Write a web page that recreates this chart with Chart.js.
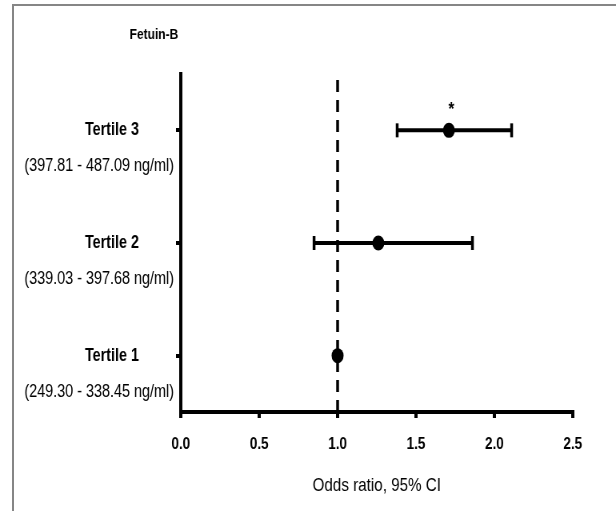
<!DOCTYPE html>
<html>
<head>
<meta charset="utf-8">
<title>Fetuin-B</title>
<script src="https://cdn.jsdelivr.net/npm/chart.js@4"></script>
<style>
  html, body { margin: 0; padding: 0; background: #fff; }
  body { width: 616px; height: 511px; overflow: hidden; position: relative; }
  /* grey frame, only left and top edges show */
  #frame { position: absolute; left: 12px; top: 4px; right: -10px; bottom: -10px;
           border-left: 2px solid #868686; border-top: 2px solid #868686; }
  /* the figure is drawn wide and squeezed horizontally (narrow font look) */
  #wrap { position: absolute; left: 0; top: 0; width: 770px; height: 511px;
          transform: scaleX(0.8); transform-origin: 0 0; }
</style>
</head>
<body>
<div id="frame"></div>
<div id="wrap"><canvas id="forest"></canvas></div>
<script>
// === Dati ===
const tertiles = [1, 2, 3];
const tertileNames = ["Tertile 1", "Tertile 2", "Tertile 3"];
const tertileRanges = ["(249.30 - 338.45 ng/ml)", "(339.03 - 397.68 ng/ml)", "(397.81 - 487.09 ng/ml)"];
const oddsRatio = [1.00, 1.26, 1.71];
const ciLow = [null, 0.85, 1.38];
const ciHigh = [null, 1.86, 2.11];
const significant = [false, false, true];
const xTicks = [0, 0.5, 1.0, 1.5, 2.0, 2.5];
const refOR = 1.0;

const FONT = "'Liberation Sans', Arial, sans-serif";

// punti OR
const pointSet = {
  label: "OR",
  data: tertiles.map((t, i) => ({ x: oddsRatio[i], y: t })),
  pointRadius: 7.5,
  pointBackgroundColor: "#000",
  pointBorderWidth: 0,
  showLine: false
};

// barre 95% CI (con i baffi verticali alle estremita')
const ciSets = [];
tertiles.forEach((t, i) => {
  if (ciLow[i] == null) return;
  ciSets.push({
    label: "CI " + t,
    data: [{ x: ciLow[i], y: t }, { x: ciHigh[i], y: t }],
    showLine: true,
    borderColor: "#000",
    borderWidth: 4,
    pointStyle: "line",
    pointRotation: 90,
    pointRadius: 7,
    pointBorderColor: "#000",
    pointBorderWidth: 3.5
  });
});

// linea tratteggiata a OR = 1
const refSet = {
  label: "ref",
  data: [{ x: refOR, y: 0.5 }, { x: refOR, y: 3.5 }],
  showLine: true,
  borderColor: "#000",
  borderWidth: 3.5,
  borderDash: [12, 8],
  pointRadius: 0
};

// etichette righe, titolo e asterisco
const labelPlugin = {
  id: "rowLabels",
  afterDraw(chart) {
    const ctx = chart.ctx;
    const xs = chart.scales.x, ys = chart.scales.y;
    const left = chart.chartArea.left;
    ctx.save();
    ctx.fillStyle = "#000";
    ctx.textBaseline = "middle";
    ctx.textAlign = "center";
    tertiles.forEach((t, i) => {
      const py = ys.getPixelForValue(t);
      ctx.font = "bold 18px " + FONT;
      ctx.fillText(tertileNames[i], left - 86, py);
      ctx.font = "18px " + FONT;
      ctx.fillText(tertileRanges[i], left - 102, py + 36);
      if (significant[i]) {
        ctx.font = "bold 19px " + FONT;
        ctx.fillText("*", xs.getPixelForValue(oddsRatio[i]) + 3, py - 21);
      }
    });
    ctx.textAlign = "left";
    ctx.font = "bold 15px " + FONT;
    ctx.fillText("Fetuin-B", left - 64, 35);
    ctx.restore();
  }
};

new Chart(document.getElementById("forest"), {
  type: "scatter",
  data: { datasets: [pointSet, ...ciSets, refSet] },
  options: {
    responsive: true,
    maintainAspectRatio: false,
    animation: false,
    events: [],
    layout: { padding: { top: 74, right: 54, bottom: 0, left: 0 } },
    plugins: { legend: { display: false }, tooltip: { enabled: false } },
    scales: {
      x: {
        type: "linear",
        min: 0,
        max: 2.5,
        afterBuildTicks: s => { s.ticks = xTicks.map(v => ({ value: v })); },
        ticks: {
          callback: v => Number(v).toFixed(1),
          font: { family: FONT, size: 17, weight: "bold" },
          color: "#000",
          padding: 16,
          maxRotation: 0
        },
        grid: { drawOnChartArea: false, drawTicks: true, tickLength: 6, color: "#000", lineWidth: 4 },
        border: { display: true, color: "#000", width: 4 },
        title: {
          display: true,
          text: "Odds ratio, 95% CI",
          font: { family: FONT, size: 19 },
          color: "#000",
          padding: { top: 0, bottom: 14 }
        },
        afterFit: s => { s.height = 99; }
      },
      y: {
        type: "linear",
        min: 0.5,
        max: 3.5,
        afterBuildTicks: s => { s.ticks = tertiles.map(v => ({ value: v })); },
        ticks: { display: false },
        grid: { drawOnChartArea: false, drawTicks: true, tickLength: 6, color: "#000", lineWidth: 4 },
        border: { display: true, color: "#000", width: 4 },
        afterFit: s => { s.width = 226; }
      }
    }
  },
  plugins: [labelPlugin]
});
</script>
</body>
</html>
